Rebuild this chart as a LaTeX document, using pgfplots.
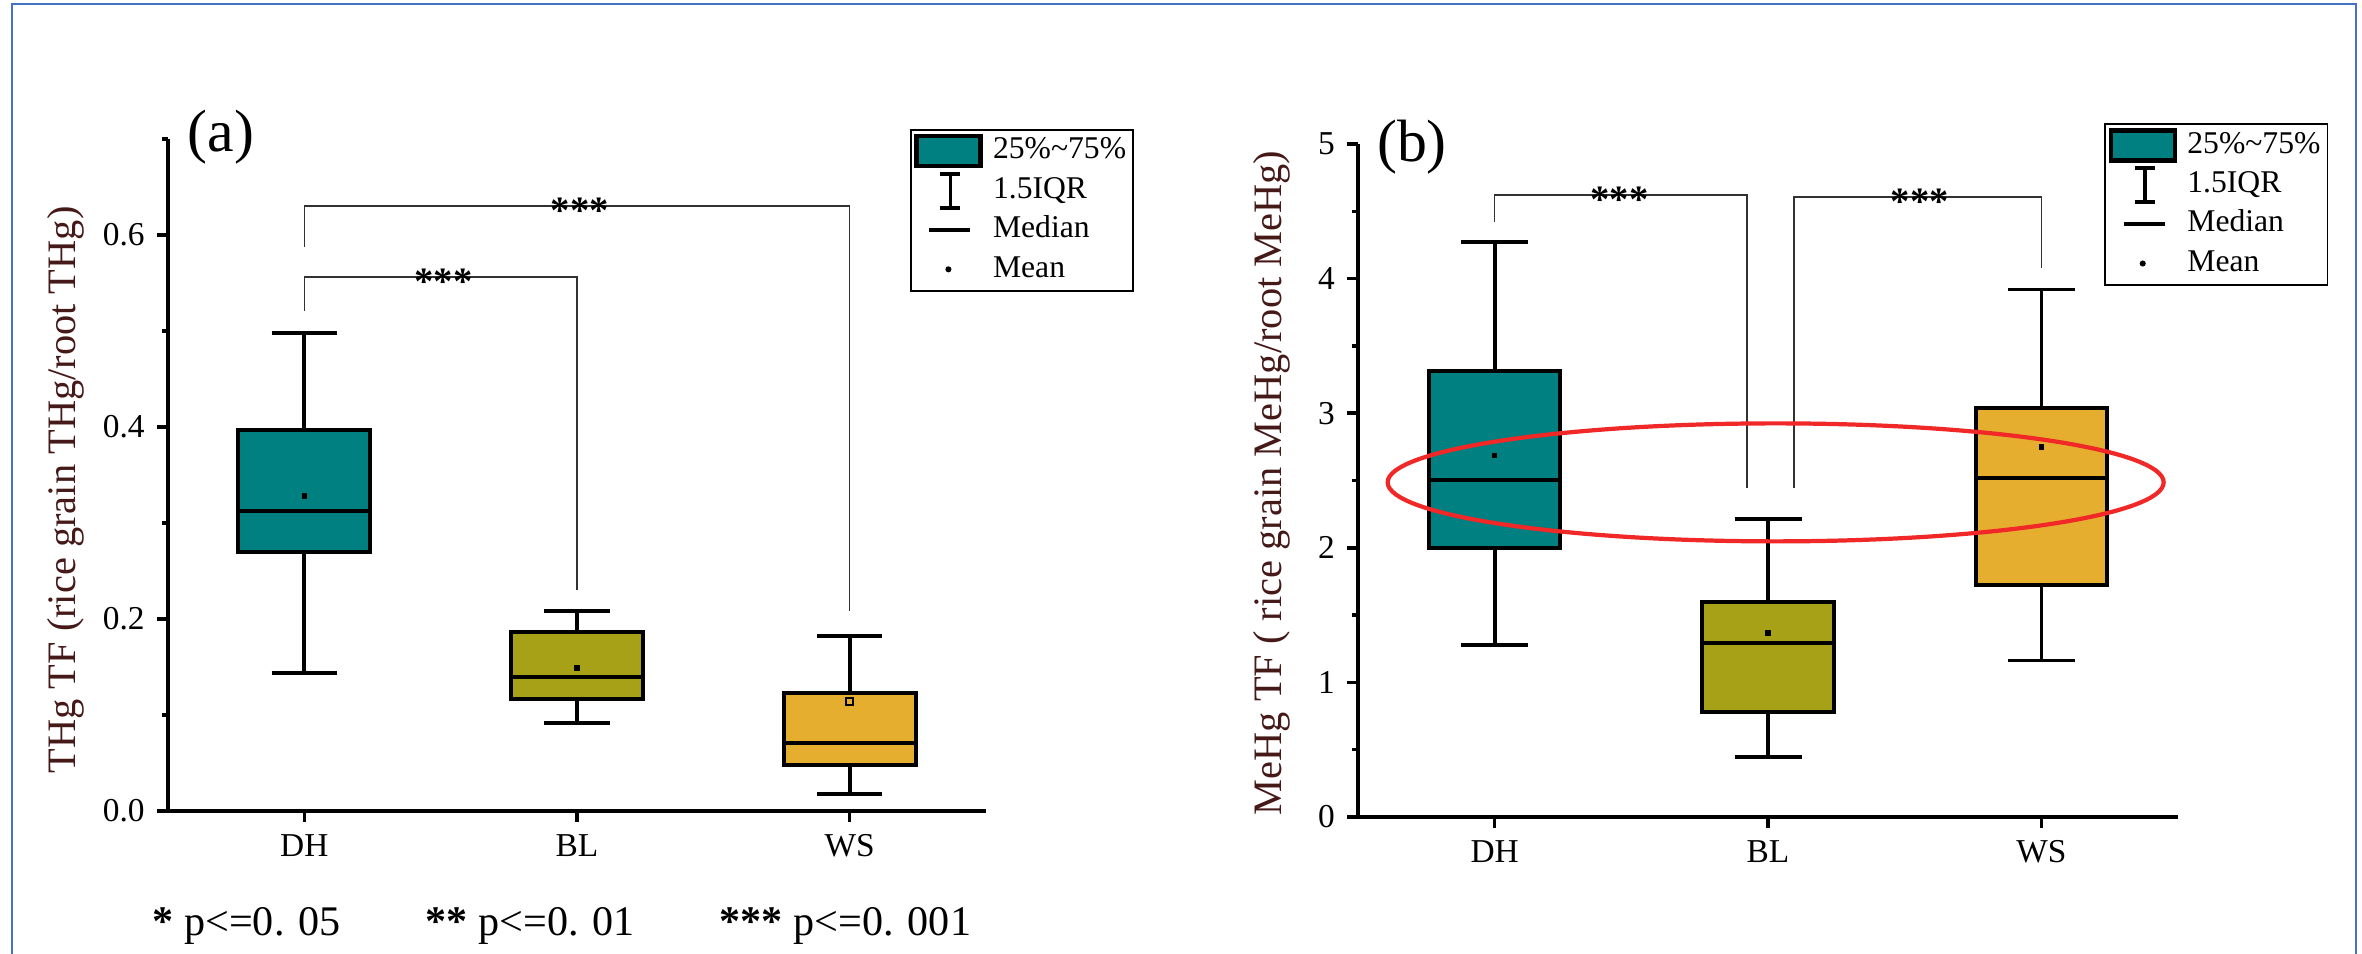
\documentclass[border=0pt]{standalone}
\usepackage{pgfplots}
\pgfplotsset{compat=1.18}
\usepgfplotslibrary{statistics}
\usepackage{fontspec}
\setmainfont{Liberation Serif}
\definecolor{tealc}{RGB}{0,128,128}
\definecolor{olivec}{RGB}{166,161,22}
\definecolor{goldc}{RGB}{229,174,46}
\definecolor{framec}{RGB}{68,114,196}
\definecolor{ylabc}{RGB}{70,25,25}
\definecolor{ellc}{RGB}{240,40,40}
\definecolor{brk}{RGB}{50,50,50}
\tikzset{ast/.style={font=\bfseries\fontsize{11}{12}\selectfont, inner sep=0pt}}
\pgfplotsset{
  panel/.style={
    scale only axis, xmin=0.5, xmax=3.5,
    xtick={1,2,3}, xticklabels={DH,BL,WS},
    axis x line*=bottom, axis y line*=left,
    axis line style={-, line width=1pt, black},
    tick align=outside, major tick length=3.1pt, minor tick length=1.7pt,
    every tick/.style={line width=1pt, black},
    tick label style={font=\fontsize{9.5}{11}\selectfont, black},
    /pgf/number format/assume math mode=true,
    boxplot/draw direction=y,
    boxplot/every median/.style={line width=1.15pt},
    boxplot/every box/.style={line width=1.15pt},
    boxplot/every whisker/.style={line width=1.05pt},
    clip=false,
    legend cell align=left,
  },
  bx/.style={draw=black, line width=1.1pt, solid, mark=none, forget plot},
  mn/.style={only marks, mark=square*, mark size=0.55pt, black, forget plot},
  br/.style={brk, line width=0.45pt, sharp plot, mark=none, forget plot},
  lgd/.style={anchor=north west, draw=black, line width=0.5pt, fill=white,
    font=\fontsize{9}{10}\selectfont, inner xsep=1pt, inner ysep=0.5pt,
    row sep=0pt, column sep=2pt,
    nodes={inner sep=1pt, text height=6.8pt, text depth=2.4pt}},
}
\newcommand{\mylegend}{%
  \addlegendimage{legend image code/.code={\path[draw=none,fill=none] (0cm,-0.16cm) rectangle (0.66cm,0.16cm);\draw[fill=tealc, draw=black, line width=1.2pt] (0cm,-0.15cm) rectangle (0.64cm,0.15cm);}}
  \addlegendentry{25\%\textasciitilde75\%}
  \addlegendimage{legend image code/.code={\path[draw=none,fill=none] (0cm,-0.16cm) rectangle (0.66cm,0.16cm);\draw[black, line width=1.1pt] (0.34cm,-0.17cm) -- (0.34cm,0.17cm) (0.24cm,-0.17cm) -- (0.44cm,-0.17cm) (0.24cm,0.17cm) -- (0.44cm,0.17cm);}}
  \addlegendentry{1.5IQR}
  \addlegendimage{legend image code/.code={\path[draw=none,fill=none] (0cm,-0.16cm) rectangle (0.66cm,0.16cm);\draw[black, line width=1.1pt] (0.13cm,0cm) -- (0.54cm,0cm);}}
  \addlegendentry{Median}
  \addlegendimage{legend image code/.code={\path[draw=none,fill=none] (0cm,-0.16cm) rectangle (0.66cm,0.16cm);\fill[black] (0.32cm,0cm) circle (0.6pt);}}
  \addlegendentry{Mean}
}
\begin{document}
\begin{tikzpicture}[x=1cm,y=1cm]
\useasboundingbox (0,0) rectangle (23.62,9.54);
\draw[framec, line width=0.6pt] (0.12,-0.2) -- (0.12,9.50) -- (23.56,9.50) -- (23.56,-0.2);

% ---------------- panel (a)
\begin{axis}[panel, at={(1.68cm,1.43cm)}, anchor=south west,
  width=8.18cm, height=6.72cm, ymin=0, ymax=0.7,
  ytick={0,0.2,0.4,0.6}, minor ytick={0.1,0.3,0.5,0.7},
  yticklabel style={/pgf/number format/fixed, /pgf/number format/precision=1, /pgf/number format/fixed zerofill},
  legend style={lgd, at={(rel axis cs:0.907,1.015)}}]
\addplot[bx, fill=tealc, boxplot prepared={draw position=1, lower whisker=0.1435, lower quartile=0.270, median=0.312, upper quartile=0.397, upper whisker=0.498, box extend=0.485, whisker extend=0.24}] coordinates {};
\addplot[bx, fill=olivec, boxplot prepared={draw position=2, lower whisker=0.092, lower quartile=0.117, median=0.1397, upper quartile=0.186, upper whisker=0.208, box extend=0.485, whisker extend=0.24}] coordinates {};
\addplot[bx, fill=goldc, boxplot prepared={draw position=3, lower whisker=0.0178, lower quartile=0.0476, median=0.071, upper quartile=0.1225, upper whisker=0.182, box extend=0.485, whisker extend=0.24}] coordinates {};
\addplot[mn] coordinates {(1,0.328) (2,0.149)};
\addplot[only marks, mark=square, mark size=1pt, mark options={line width=0.45pt}, black, forget plot] coordinates {(3,0.114)};
\addplot[br] coordinates {(1,0.521) (1,0.556) (2,0.556) (2,0.230)};
\addplot[br] coordinates {(1,0.588) (1,0.630) (3,0.630) (3,0.208)};
\node[ast] at (axis cs:1.51,0.551) {***};
\node[ast] at (axis cs:2.01,0.625) {***};
\mylegend
\end{axis}

% ---------------- panel (b)
\begin{axis}[panel, at={(13.58cm,1.37cm)}, anchor=south west,
  width=8.20cm, height=6.73cm, ymin=0, ymax=5,
  ytick={0,1,2,3,4,5}, minor ytick={0.5,1.5,2.5,3.5,4.5},
  legend style={lgd, at={(rel axis cs:0.910,1.031)}}]
\addplot[bx, fill=tealc, boxplot prepared={draw position=1, lower whisker=1.276, lower quartile=1.998, median=2.507, upper quartile=3.311, upper whisker=4.273, box extend=0.48, whisker extend=0.245}] coordinates {};
\addplot[bx, fill=olivec, boxplot prepared={draw position=2, lower whisker=0.445, lower quartile=0.781, median=1.290, upper quartile=1.594, upper whisker=2.212, box extend=0.48, whisker extend=0.245}] coordinates {};
\addplot[bx, fill=goldc, boxplot prepared={draw position=3, lower whisker=1.163, lower quartile=1.721, median=2.520, upper quartile=3.038, upper whisker=3.919, box extend=0.48, whisker extend=0.245}] coordinates {};
\addplot[mn] coordinates {(1,2.684) (2,1.367) (3,2.748)};
\addplot[br] coordinates {(1,4.42) (1,4.62) (1.923,4.62) (1.923,2.443)};
\addplot[br] coordinates {(2.095,2.443) (2.095,4.605) (3,4.605) (3,4.078)};
\node[ast] at (axis cs:1.457,4.585) {***};
\node[ast] at (axis cs:2.555,4.57) {***};
\draw[ellc, line width=1.2pt] (axis cs:2.028,2.486) ellipse [x radius=3.88cm, y radius=0.59cm];
\mylegend
\end{axis}

% ---------------- free text
\node[rotate=90, font=\fontsize{11.5}{13}\selectfont, text=ylabc] at (0.66,4.64) {THg TF (rice grain THg/root THg)};
\node[rotate=90, font=\fontsize{11.5}{13}\selectfont, text=ylabc] at (12.72,4.71) {MeHg TF ( rice grain MeHg/root MeHg)};
\node[font=\fontsize{17}{19}\selectfont] at (2.21,8.17) {(a)};
\node[font=\fontsize{17}{19}\selectfont] at (14.12,8.07) {(b)};
\node[anchor=base west, inner sep=0pt, font=\fontsize{12}{14}\selectfont] at (1.52,0.18) {{\bfseries\large *}\ p<=0. 05};
\node[anchor=base west, inner sep=0pt, font=\fontsize{12}{14}\selectfont] at (4.25,0.18) {{\bfseries\large **}\ p<=0. 01};
\node[anchor=base west, inner sep=0pt, font=\fontsize{12}{14}\selectfont] at (7.19,0.18) {{\bfseries\large ***}\ p<=0. 001};
\end{tikzpicture}
\end{document}
